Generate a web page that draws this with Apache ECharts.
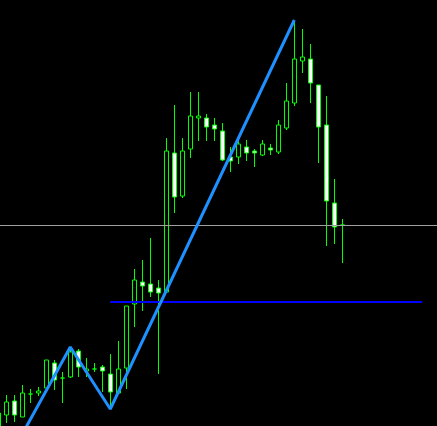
<!DOCTYPE html>
<html>
<head>
<meta charset="utf-8">
<script src="https://cdn.jsdelivr.net/npm/echarts@6/dist/echarts.min.js"></script>
<style>
html,body{margin:0;padding:0;background:#000;overflow:hidden;width:437px;height:426px;}
#c{position:absolute;left:-6px;top:0;width:449px;height:426px;}
</style>
</head>
<body>
<div id="c"></div>
<script>
// price units (bars, oldest first)
const opens  = [-4, 11, 25, 9, 32, 33, 38, 63, 48, 49, 75, 55, 57, 59, 52, 33, 58, 122, 144, 142, 138, 134, 273, 230, 277, 308, 308, 301, 295, 269, 269, 279, 275, 271, 278, 274, 298, 323, 365, 367, 341, 301, 223, 201];
const closes = [13, 24, 11, 33, 32, 35, 66, 46, 48, 74, 59, 57, 57, 55, 34, 57, 120, 146, 140, 134, 133, 275, 229, 275, 310, 310, 299, 297, 266, 265, 282, 273, 273, 282, 276, 301, 325, 367, 369, 343, 299, 225, 199, 201];
const lows   = [-4, 3, 4, 9, 23, 30, 36, 36, 23, 48, 49, 49, 54, 34, 18, 33, 37, 99, 115, 129, 52, 134, 213, 228, 268, 285, 285, 285, 265, 254, 262, 265, 259, 270, 271, 272, 296, 320, 353, 323, 263, 180, 182, 163];
const highs  = [13, 31, 31, 41, 37, 39, 66, 66, 54, 79, 77, 68, 63, 61, 72, 85, 120, 157, 166, 188, 146, 288, 321, 288, 334, 334, 312, 308, 303, 279, 287, 286, 277, 286, 282, 306, 343, 405, 397, 382, 341, 330, 247, 207];
const barCount = 56; // includes empty future bars on the right
const categories = Array.from({length: barCount}, (_, i) => 'B' + i);
// zigzag vertices: [bar index, price]
const zigzag = [[3, -8], [9, 79], [14, 17], [37, 406]];
// horizontal levels
const grayLevel = 200.5;
const blueLevel = 124;
const blueFrom = 14, blueTo = 53;

const candleData = opens.map((o, i) => [o, closes[i], lows[i], highs[i]]);

const chart = echarts.init(document.getElementById('c'));
chart.setOption({
  backgroundColor: '#000000',
  animation: false,
  grid: {left: 0.3, top: 0, width: barCount * 8, height: 426, containLabel: false},
  xAxis: {type: 'category', data: categories, boundaryGap: true, show: false},
  yAxis: {type: 'value', min: 0, max: 426, show: false, splitLine: {show: false}},
  series: [
    {
      type: 'candlestick',
      data: candleData,
      barWidth: 4,
      itemStyle: {
        color: '#000000',
        color0: '#ffffff',
        borderColor: '#00ff00',
        borderColor0: '#00ff00',
        borderColorDoji: '#00ff00',
        borderWidth: 1
      },
      z: 2
    },
    {
      type: 'line',
      data: [[0, grayLevel], [barCount - 1, grayLevel]],
      symbol: 'none',
      lineStyle: {color: '#a0a0a0', width: 1},
      z: 3
    },
    {
      type: 'line',
      data: [[blueFrom, blueLevel], [blueTo, blueLevel]],
      symbol: 'none',
      lineStyle: {color: '#0000ff', width: 2},
      z: 4
    },
    {
      type: 'line',
      data: zigzag,
      symbol: 'none',
      lineStyle: {color: '#1e90ff', width: 3},
      z: 5
    }
  ]
});
</script>
</body>
</html>
